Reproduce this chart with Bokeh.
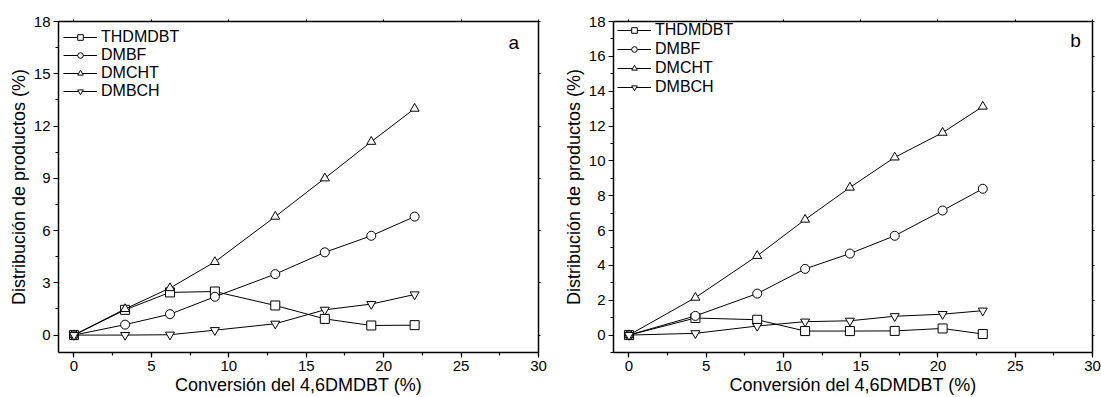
from bokeh.plotting import figure
from bokeh.layouts import row
from bokeh.models import LinearAxis, Range1d, SingleIntervalTicker, Label, Legend, LegendItem
from bokeh.embed import file_html
from bokeh.resources import INLINE

# ---- data panel a ----
xa = [0, 3.3, 6.2, 9.1, 13.0, 16.2, 19.2, 22.0]
a_thdmdbt = [0, 1.45, 2.45, 2.5, 1.7, 0.93, 0.55, 0.57]
a_dmbf = [0, 0.6, 1.2, 2.2, 3.5, 4.75, 5.7, 6.8]
a_dmcht = [0, 1.5, 2.7, 4.2, 6.8, 9.0, 11.1, 13.0]
a_dmbch = [0, 0.0, 0.02, 0.28, 0.65, 1.45, 1.78, 2.33]

# ---- data panel b ----
xb = [0, 4.3, 8.3, 11.4, 14.3, 17.2, 20.3, 22.9]
b_thdmdbt = [0, 0.98, 0.88, 0.23, 0.23, 0.24, 0.38, 0.06]
b_dmbf = [0, 1.1, 2.38, 3.8, 4.68, 5.7, 7.15, 8.4]
b_dmcht = [0, 2.15, 4.55, 6.63, 8.47, 10.2, 11.62, 13.12]
b_dmbch = [0, 0.1, 0.52, 0.77, 0.82, 1.08, 1.2, 1.4]

names = ["THDMDBT", "DMBF", "DMCHT", "DMBCH"]
markers = ["square", "circle", "triangle", "inverted_triangle"]

FONT = "Liberation Sans"


def make_panel(x, series, ystep, tag, left, right, top, width, tag_xy, leg_xy, leg_spacing):
    p = figure(width=width, height=397, output_backend="svg", toolbar_location=None,
               x_range=Range1d(-1, 30), y_range=Range1d(-1, 18),
               min_border_left=left, min_border_right=right,
               min_border_top=top, min_border_bottom=44,
               background_fill_color="white", border_fill_color="white",
               outline_line_color=None)
    p.grid.visible = False
    p.xaxis.ticker = SingleIntervalTicker(interval=5, num_minor_ticks=2)
    p.yaxis.ticker = SingleIntervalTicker(interval=ystep, num_minor_ticks=2)
    for ax in p.xaxis + p.yaxis:
        ax.axis_line_width = 1.5
        ax.major_tick_line_width = 1.2
        ax.minor_tick_line_width = 1.2
        ax.major_tick_out = 5
        ax.major_tick_in = 0
        ax.minor_tick_out = 3
        ax.minor_tick_in = 0
        ax.major_label_text_font = FONT
        ax.major_label_text_font_size = "15px"
        ax.major_label_text_color = "black"
        ax.axis_label_text_font = FONT
        ax.axis_label_text_font_size = "18px"
        ax.axis_label_text_font_style = "normal"
        ax.axis_label_text_color = "black"
        ax.major_label_standoff = 3
        ax.axis_label_standoff = 1
    p.xaxis.axis_label = "Conversión del 4,6DMDBT (%)"
    p.yaxis.axis_label = "Distribución de productos (%)"
    p.yaxis.axis_label_standoff = 2

    for kind in ("above", "right"):
        ax = LinearAxis(ticker=SingleIntervalTicker(interval=(5 if kind == "above" else ystep), num_minor_ticks=0))
        ax.axis_line_width = 1.5
        ax.major_tick_out = 2
        ax.major_tick_in = 0
        ax.minor_tick_out = 0
        ax.major_label_text_font_size = "0px"
        ax.major_label_standoff = 0
        p.add_layout(ax, kind)

    items = []
    for (ys, name, mk) in zip(series, names, markers):
        ln = p.line(x, ys, line_color="black", line_width=1)
        sc = p.scatter(x, ys, marker=mk, size=9, fill_color="white", line_color="black", line_width=1)
        items.append(LegendItem(label=name, renderers=[ln, sc]))

    legend = Legend(items=items, location=leg_xy, background_fill_alpha=0, border_line_color=None,
                    label_text_font=FONT, label_text_font_size="16px", label_text_color="black",
                    glyph_width=34, glyph_height=14, spacing=leg_spacing, padding=0, margin=0,
                    label_standoff=4, label_height=14)
    p.add_layout(legend, "center")

    p.add_layout(Label(x=tag_xy[0], y=tag_xy[1], text=tag, text_font=FONT, text_font_size="19px",
                       text_color="black", text_align="center", text_baseline="middle"))
    return p


pa = make_panel(xa, [a_thdmdbt, a_dmbf, a_dmcht, a_dmbch], 3, "a", 58, 12, 21, 550,
                (28.4, 16.8), (5, 252), 0)
pb = make_panel(xb, [b_thdmdbt, b_dmbf, b_dmcht, b_dmbch], 2, "b", 63, 9, 16, 551,
                (28.9, 16.9), (4, 256), 1)

layout = row(pa, pb, spacing=0)
open("out.html", "w").write(file_html(layout, INLINE))
